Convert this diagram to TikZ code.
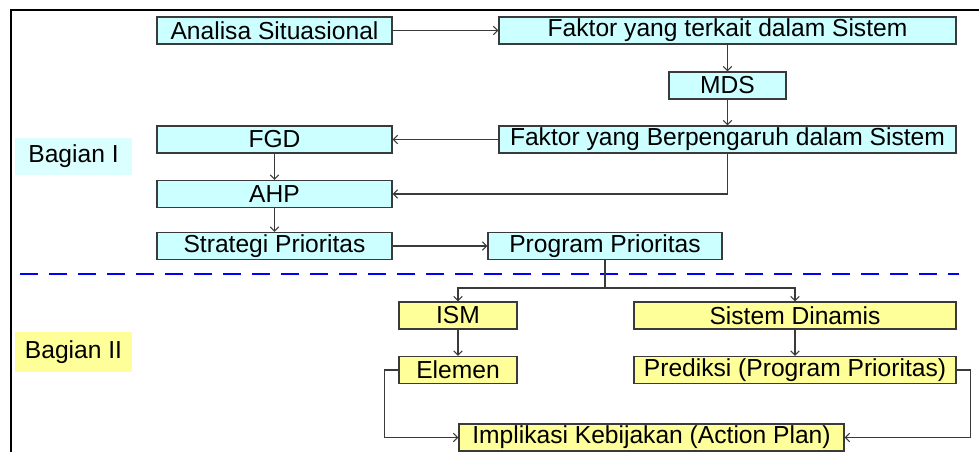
\documentclass[tikz,border=0pt]{standalone}
\usepackage{fontspec}
\setmainfont{Liberation Sans}
\usetikzlibrary{arrows.meta}

\definecolor{boxcyan}{HTML}{CCFFFF}
\definecolor{boxyellow}{HTML}{FFFF99}
\definecolor{edgegray}{HTML}{3A3A3A}

\begin{document}
\begin{tikzpicture}[x=0.025cm, y=-0.025cm]
    \tikzset{StepStyle/.style = {draw=edgegray, line width=0.9pt, rectangle, inner sep=0pt,
                                 minimum height=0.675cm, font=\fontsize{17.5}{19}\selectfont}}
    \tikzset{CyanStyle/.style = {StepStyle, fill=boxcyan}}
    \tikzset{YellowStyle/.style = {StepStyle, fill=boxyellow}}
    \tikzset{boxw/.style = {minimum width=#1*0.025cm}}
    \tikzset{PartStyle/.style = {rectangle, inner sep=0pt, minimum width=2.925cm,
                                 font=\fontsize{17.5}{19}\selectfont}}
    \tikzset{EdgeStyle/.style = {draw=edgegray, line width=0.8pt,
                                 -{Straight Barb[length=3pt,width=6pt]}}}
    \useasboundingbox (0,0) rectangle (979,452);
    \draw[line width=1.5pt] (11,452) -- (11,10) -- (979,10);
    \node[PartStyle, fill=boxcyan!70, minimum height=0.925cm] (bagian1) at (73.5,156.5) {Bagian I};
    \node[PartStyle, fill=boxyellow, minimum height=1cm] (bagian2) at (73.5,352) {Bagian II};
    \node[CyanStyle, boxw=235] (analisa) at (274.5,30.5) {Analisa Situasional};
    \node[CyanStyle, boxw=457] (terkait) at (727.5,30.5) {Faktor yang terkait dalam Sistem};
    \node[CyanStyle, boxw=117] (mds) at (727.5,85.5) {MDS};
    \node[CyanStyle, boxw=457] (pengaruh) at (727.5,139.5) {Faktor yang Berpengaruh dalam Sistem};
    \node[CyanStyle, boxw=235] (fgd) at (274.5,139.5) {FGD};
    \node[CyanStyle, boxw=235] (ahp) at (274.5,194) {AHP};
    \node[CyanStyle, boxw=235] (strategi) at (274.5,246) {Strategi Prioritas};
    \node[CyanStyle, boxw=234] (program) at (605,246) {Program Prioritas};
    \draw[blue, line width=1.5pt, dash pattern=on 0.45cm off 0.275cm] (20,274) -- (959,274);
    \node[YellowStyle, boxw=118] (ism) at (458,315.5) {ISM};
    \node[YellowStyle, boxw=322] (dinamis) at (795,315.5) {Sistem Dinamis};
    \node[YellowStyle, boxw=118] (elemen) at (458,370) {Elemen};
    \node[YellowStyle, boxw=322] (prediksi) at (795,370) {Prediksi (Program Prioritas)};
    \node[YellowStyle, boxw=385] (implikasi) at (651.5,437.5) {Implikasi Kebijakan (Action Plan)};
    \coordinate (split) at (605,288);
    \draw[EdgeStyle] (analisa) -- (terkait);
    \draw[EdgeStyle] (terkait) -- (mds);
    \draw[EdgeStyle] (mds) -- (pengaruh);
    \draw[EdgeStyle] (pengaruh) -- (fgd);
    \draw[EdgeStyle] (fgd) -- (ahp);
    \draw[EdgeStyle] (pengaruh.south) |- (ahp.east);
    \draw[EdgeStyle] (ahp) -- (strategi);
    \draw[EdgeStyle] (strategi) -- (program);
    \draw[EdgeStyle, -] (program.south) -- (split);
    \draw[EdgeStyle] (split) -| (ism.north);
    \draw[EdgeStyle] (split) -| (dinamis.north);
    \draw[EdgeStyle] (ism) -- (elemen);
    \draw[EdgeStyle] (dinamis) -- (prediksi);
    \draw[EdgeStyle] (elemen.west) -- ++(-14,0) |- (implikasi.west);
    \draw[EdgeStyle] (prediksi.east) -- ++(14,0) |- (implikasi.east);
\end{tikzpicture}
\end{document}
